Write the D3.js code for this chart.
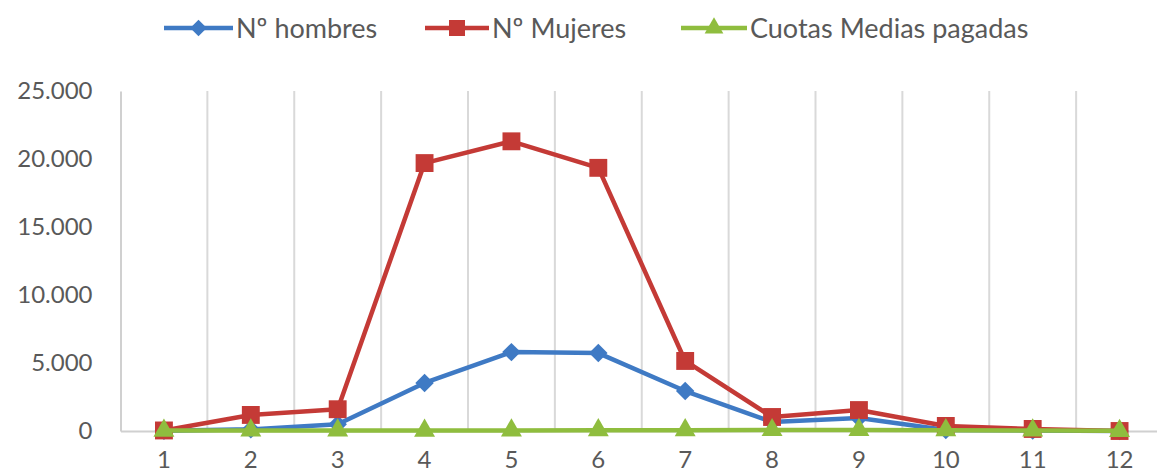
<!DOCTYPE html>
<html>
<head>
<meta charset="utf-8">
<script src="https://cdn.jsdelivr.net/npm/d3@7"></script>
<style>
  html, body { margin: 0; padding: 0; background: #fff; }
  svg { display: block; font-family: Lato, "Open Sans", sans-serif; }
</style>
</head>
<body>
<svg id="chart" width="1157" height="475"></svg>
<script>
// Months and series values
const categories = ["1","2","3","4","5","6","7","8","9","10","11","12"];
const hombres = [20, 120, 500, 3530, 5800, 5730, 2940, 660, 950, 80, 40, 0];
const mujeres = [40, 1180, 1600, 19700, 21300, 19350, 5150, 1030, 1540, 370, 150, 0];
const cuotas  = [30, 40, 45, 30, 45, 60, 60, 70, 80, 60, 40, 10];
const yTicks  = [0, 5000, 10000, 15000, 20000, 25000];

const series = [
  { name: "Nº hombres", values: hombres, color: "#3f7ac4", marker: "diamond" },
  { name: "Nº Mujeres", values: mujeres, color: "#c43a36", marker: "square" },
  { name: "Cuotas Medias pagadas", values: cuotas, color: "#8fbd3e", marker: "triangle" }
];

const svg = d3.select("#chart");
const plotLeft = 120.5, plotRight = 1163, plotTop = 91, plotBottom = 431;

const x = d3.scaleBand().domain(categories).range([plotLeft, plotRight]);
const y = d3.scaleLinear().domain([0, 25000]).range([plotBottom, plotTop]);
const cx = d => x(d) + x.bandwidth() / 2;

// vertical gridlines between categories
svg.append("g").selectAll("line")
  .data(categories.slice(1))
  .join("line")
  .attr("x1", d => x(d)).attr("x2", d => x(d))
  .attr("y1", plotTop).attr("y2", plotBottom)
  .attr("stroke", "#d9d9d9").attr("stroke-width", 2);

// y axis
const fmt = v => v === 0 ? "0" : d3.format(",")(v).replace(/,/g, ".");
const yAxis = svg.append("g")
  .attr("transform", `translate(${plotLeft},0)`)
  .call(d3.axisLeft(y).tickValues(yTicks).tickFormat(fmt).tickSize(0).tickPadding(28));
yAxis.select(".domain").attr("stroke", "#d0d0d0").attr("stroke-width", 2);
yAxis.selectAll("text").attr("font-size", 24).attr("fill", "#595959")
  .attr("font-family", "Lato, sans-serif");

// x axis
const xAxis = svg.append("g")
  .attr("transform", `translate(0,${plotBottom})`)
  .call(d3.axisBottom(x).tickSize(0).tickPadding(20));
xAxis.select(".domain").attr("stroke", "#d0d0d0").attr("stroke-width", 2);
xAxis.selectAll("text").attr("font-size", 24).attr("fill", "#595959")
  .attr("font-family", "Lato, sans-serif");

// marker shapes: diamond as a rotated square, square, triangle
const diamond = { draw(ctx, size) { const r = Math.sqrt(size / 2); ctx.moveTo(0, -r); ctx.lineTo(r, 0); ctx.lineTo(0, r); ctx.lineTo(-r, 0); ctx.closePath(); } };
const symbolType = m => m === "diamond" ? diamond : m === "square" ? d3.symbolSquare : d3.symbolTriangle;
const symbolSize = m => m === "diamond" ? 170 : m === "square" ? 320 : 190;

const line = d3.line().x((d, i) => cx(categories[i])).y(d => y(d));

series.forEach(s => {
  const g = svg.append("g");
  g.append("path")
    .attr("d", line(s.values))
    .attr("fill", "none")
    .attr("stroke", s.color)
    .attr("stroke-width", 4.5)
    .attr("stroke-linejoin", "round");
  g.selectAll("path.m")
    .data(s.values)
    .join("path")
    .attr("class", "m")
    .attr("transform", (d, i) => `translate(${cx(categories[i])},${y(d)})`)
    .attr("d", d3.symbol(symbolType(s.marker), symbolSize(s.marker))())
    .attr("fill", s.color);
});

// legend
const legendItems = [
  { x: 164, w: 69 },
  { x: 425, w: 64 },
  { x: 681, w: 66 }
];
const lg = svg.append("g");
series.forEach((s, i) => {
  const it = legendItems[i];
  const ly = 28;
  lg.append("line")
    .attr("x1", it.x).attr("x2", it.x + it.w)
    .attr("y1", ly).attr("y2", ly)
    .attr("stroke", s.color).attr("stroke-width", 4.5);
  lg.append("path")
    .attr("transform", `translate(${it.x + it.w / 2},${ly})`)
    .attr("d", d3.symbol(symbolType(s.marker), symbolSize(s.marker) * 0.8)())
    .attr("fill", s.color);
  lg.append("text")
    .attr("x", it.x + it.w + 3).attr("y", ly)
    .attr("dy", "0.36em")
    .attr("font-size", 27)
    .attr("fill", "#595959")
    .text(s.name);
});
</script>
</body>
</html>
